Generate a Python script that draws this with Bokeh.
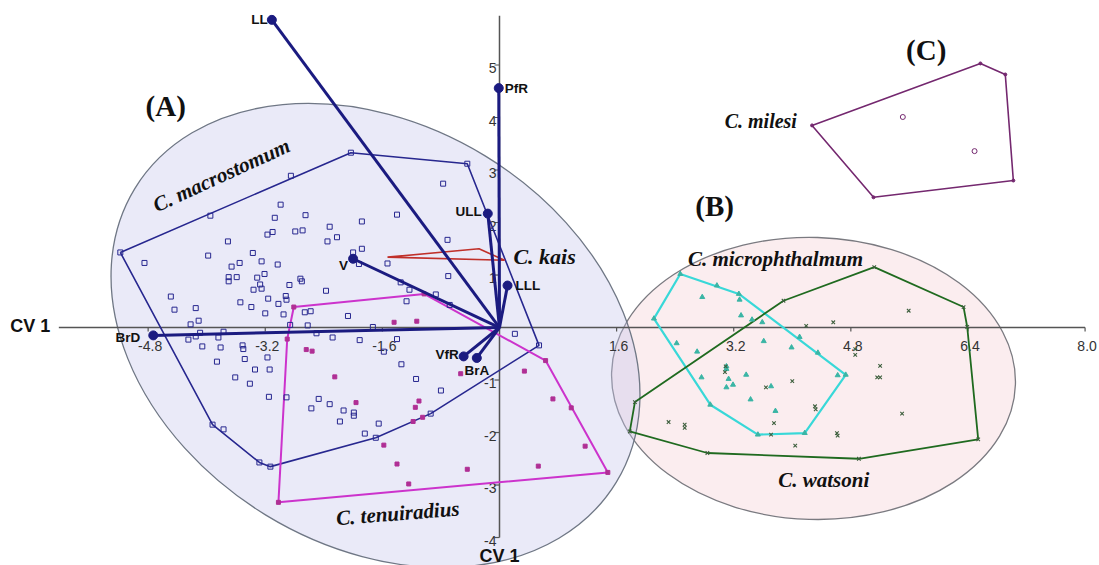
from bokeh.plotting import figure
from bokeh.models import Range1d
from bokeh.core.properties import value
from bokeh.embed import file_html
from bokeh.resources import INLINE

# ---------------- data (CV1 / CV2 units) ----------------
x_ticks = [-4.8, -3.2, -1.6, 1.6, 3.2, 4.8, 6.4, 8.0]
x_tick_labels = ["-4.8", "-3.2", "-1.6", "1.6", "3.2", "4.8", "6.4", "8.0"]
y_ticks = [5, 4, 3, 2, 1, -1, -2, -3, -4]
y_tick_labels = ["5", "4", "3", "2", "1", "-1", "-2", "-3", "-4"]

vec_names = ["LL", "PfR", "ULL", "LLL", "V", "BrD", "VfR", "BrA"]
vec_x = [-3.11, -0.01, -0.16, 0.11, -2.00, -4.73, -0.49, -0.31]
vec_y = [5.86, 4.56, 2.17, 0.80, 1.31, -0.15, -0.55, -0.58]

macro_hull_x = [-5.18, -2.03, -0.44, 0.54, -0.94, -1.69, -3.13, -3.28, -3.92]
macro_hull_y = [1.43, 3.33, 3.12, -0.34, -1.64, -2.10, -2.65, -2.57, -1.85]
macro_x = [-2.99, -3.07, -2.65, -1.88, -1.40, -3.17, -3.10, -2.79, -2.69, -2.32,
           -3.71, -2.35, -2.22, -1.88, -2.00, -1.92, -1.53, -4.85, -3.98, -3.37,
           -3.66, -3.55, -3.25, -3.03, -3.21, -3.70, -3.70, -3.59, -3.31, -3.27,
           -3.36, -3.25, -2.72, -2.70, -2.87, -2.37, -4.49, -4.44, -4.15, -3.54,
           -3.39, -3.16, -3.02, -2.92, -2.91, -3.20, -2.95, -2.66, -2.58, -2.07,
           -4.22, -4.11, -2.62, -1.73, -1.27, -1.23, -0.87, -0.68, -2.86, -2.50,
           -2.28, -1.91, -1.40, -1.58, -3.17, -3.34, -3.14, -1.34, -1.14, -0.80,
           -3.15, -2.91, -2.47, -2.57, -2.32, -2.13, -1.99, -1.99, -2.18, -1.65,
           -1.84, 0.21, -4.25, -4.09, -4.15, -3.77, -3.84, -4.06, -3.81, -3.51,
           -3.50, -3.86, -3.48, -3.61, -3.41, -0.77, -0.71, -0.70, -1.35, -3.95,
           -2.85, -3.77]
macro_y = [2.34, 2.09, 2.14, 2.02, 2.15, 1.77, 1.82, 1.83, 1.85, 1.92,
           1.64, 1.64, 1.72, 1.50, 1.43, 1.21, 1.22, 1.23, 1.37, 1.42,
           1.16, 1.23, 1.26, 1.20, 1.02, 0.96, 0.88, 0.96, 0.95, 0.82,
           0.72, 0.74, 0.93, 0.88, 0.81, 0.70, 0.59, 0.34, 0.37, 0.48,
           0.39, 0.55, 0.45, 0.60, 0.53, 0.27, 0.25, 0.29, 0.31, 0.22,
           0.06, 0.13, 0.04, 0.01, 0.50, 0.72, 0.63, 0.43, 0.05, -0.11,
           -0.19, -0.24, -0.22, -0.46, -0.57, -0.80, -0.80, -0.70, -0.98, -1.20,
           -1.32, -1.33, -1.36, -1.54, -1.46, -1.58, -1.62, -1.68, -1.79, -1.83,
           -2.02, -0.12, -0.23, -0.10, -0.17, -0.08, -0.19, -0.36, -0.38, -0.34,
           -0.41, -0.65, -0.60, -0.95, -1.07, 2.74, 1.67, 0.98, 0.86, 2.13,
           2.89, -1.94]

tenui_hull_x = [-2.81, -1.03, 0.63, 1.48, -3.02, -2.90]
tenui_hull_y = [0.39, 0.64, -0.63, -2.76, -3.33, -0.22]
tenui_x = [-1.44, -1.13, -2.64, -2.56, -2.25, -0.53, -1.96, -1.10, -1.15, -1.18,
           -1.05, -1.58, -1.40, -1.24, -0.44, 0.53, 0.34, 0.73, 0.98, 1.17]
tenui_y = [0.10, 0.12, -0.42, -0.45, -0.94, -0.88, -1.43, -1.40, -1.52, -1.79,
           -1.71, -2.24, -2.60, -2.98, -2.70, -2.64, -0.83, -1.36, -1.53, -2.26]

kais_hull_x = [-1.53, -0.28, 0.07]
kais_hull_y = [1.34, 1.50, 1.28]

micro_hull_x = [2.47, 3.27, 4.73, 4.17, 3.53, 2.88, 2.11]
micro_hull_y = [1.02, 0.64, -0.90, -2.01, -2.04, -1.47, 0.17]
micro_x = [2.97, 2.77, 3.28, 3.30, 3.45, 3.59, 3.61, 3.99, 4.10, 4.35, 4.62,
           2.42, 2.70, 2.76, 3.10, 3.10, 3.13, 3.19, 3.10, 3.37, 3.43, 3.71, 3.77]
micro_y = [0.80, 0.58, 0.53, 0.23, 0.15, 0.10, -0.26, -0.38, -0.18, -0.48, -0.91,
           -0.30, -0.46, -0.95, -0.74, -0.79, -0.98, -1.09, -1.14, -0.90, -1.37, -1.12, -1.59]

wat_hull_x = [3.88, 5.12, 6.34, 6.39, 6.54, 4.91, 2.84, 1.78, 1.85]
wat_hull_y = [0.51, 1.15, 0.39, 0.01, -2.13, -2.50, -2.39, -1.98, -1.42]
wat_x = [5.59, 4.56, 4.19, 4.86, 4.86, 5.20, 5.16, 5.20, 4.00, 3.64, 3.08, 3.09,
         4.31, 4.32, 5.50, 3.75, 3.71, 4.61, 4.62, 4.04, 2.31, 2.53, 2.53]
wat_y = [0.32, 0.10, 0.03, -0.41, -0.52, -0.73, -0.95, -0.95, -1.02, -1.14, -0.85, -0.74,
         -1.50, -1.56, -1.64, -1.82, -2.04, -2.01, -2.06, -2.25, -1.80, -1.85, -1.91]

miles_hull_x = [4.27, 6.57, 6.91, 7.02, 5.11]
miles_hull_y = [3.85, 5.03, 4.82, 2.80, 2.48]
miles_x = [5.51, 6.49]
miles_y = [4.01, 3.36]

# ---------------- layout / style ----------------
W, H = 1099, 565
X0, X1 = -6.817, 8.197
Y0, Y1 = -4.533, 6.229
px_x = (X1 - X0) / W
px_y = (Y1 - Y0) / H

NAVY = "#1b1b80"
HULL_NAVY = "#27278f"
MAG = "#cc33cc"
MAG_PT = "#b02f95"
RED = "#c0302a"
CYAN = "#38d8d8"
CYAN_PT = "#3ab5a5"
GREEN = "#1f6a1f"
GREEN_PT = "#3d5f3d"
PURPLE = "#74286f"
AXIS = "#555555"
SERIF = value("Liberation Serif")
SANS = value("Liberation Sans")

p = figure(width=W, height=H, x_range=Range1d(X0, X1), y_range=Range1d(Y0, Y1),
           output_backend="svg", toolbar_location=None,
           x_axis_type=None, y_axis_type=None, min_border=0)
p.grid.visible = False
p.outline_line_color = None
p.background_fill_color = "white"
p.border_fill_color = "white"

# group ellipses
p.ellipse(x=[4.29], y=[-0.97], width=[404], height=[282], angle=-0.03,
          width_units="screen", height_units="screen",
          fill_color="#f3c6cc", fill_alpha=0.32, line_color="#7a7a80", line_width=1.3)
p.ellipse(x=[-1.694], y=[-0.152], width=[564], height=[421], angle=-0.548,
          width_units="screen", height_units="screen",
          fill_color="#c5c5ec", fill_alpha=0.36, line_color="#6f7785", line_width=1.3)

# axes (drawn at the origin)
p.segment(x0=[-6.02], y0=[0], x1=[max(x_ticks)], y1=[0], line_color=AXIS, line_width=1.5)
p.segment(x0=[0], y0=[min(y_ticks)], x1=[0], y1=[5.94], line_color=AXIS, line_width=1.5)
p.segment(x0=x_ticks, y0=[0] * len(x_ticks), x1=x_ticks, y1=[-4 * px_y] * len(x_ticks),
          line_color=AXIS, line_width=1.2)
p.segment(x0=[0] * len(y_ticks), y0=y_ticks, x1=[-5 * px_x] * len(y_ticks), y1=y_ticks,
          line_color=AXIS, line_width=1.2)
p.text(x=x_ticks, y=[0] * len(x_ticks), text=x_tick_labels, text_font=SANS,
       text_font_size="14px", text_color="#333333", text_align="center",
       text_baseline="middle", y_offset=18, x_offset=2)
p.text(x=[0] * len(y_ticks), y=y_ticks, text=y_tick_labels, text_font=SANS,
       text_font_size="14px", text_color="#333333", text_align="right",
       text_baseline="middle", x_offset=-3, y_offset=3)
p.text(x=[-6.41], y=[0.02], text=["CV 1"], text_font=SANS, text_font_size="18px",
       text_font_style="bold", text_color="#111111", text_align="center", text_baseline="middle")
p.text(x=[0.0], y=[-4.36], text=["CV 1"], text_font=SANS, text_font_size="18px",
       text_font_style="bold", text_color="#111111", text_align="center", text_baseline="middle")

# hulls
def hull(xs, ys, color, width):
    p.line(x=xs + xs[:1], y=ys + ys[:1], line_color=color, line_width=width)

hull(macro_hull_x, macro_hull_y, HULL_NAVY, 1.6)
hull(tenui_hull_x, tenui_hull_y, MAG, 2.0)
hull(kais_hull_x, kais_hull_y, RED, 1.6)
hull(micro_hull_x, micro_hull_y, CYAN, 2.2)
hull(wat_hull_x, wat_hull_y, GREEN, 1.8)
hull(miles_hull_x, miles_hull_y, PURPLE, 1.6)

# points
p.scatter(x=macro_x + macro_hull_x, y=macro_y + macro_hull_y, marker="square", size=5,
          fill_color=None, line_color=HULL_NAVY, line_width=1)
p.scatter(x=tenui_x + tenui_hull_x, y=tenui_y + tenui_hull_y, marker="square", size=4,
          fill_color=MAG_PT, line_color=MAG_PT)
p.scatter(x=micro_x + micro_hull_x, y=micro_y + micro_hull_y, marker="triangle", size=5,
          fill_color=CYAN_PT, line_color=CYAN_PT)
p.scatter(x=wat_x + wat_hull_x, y=wat_y + wat_hull_y, marker="x", size=5,
          line_color=GREEN_PT, line_width=1.1)
p.scatter(x=miles_hull_x, y=miles_hull_y, marker="circle", size=3,
          fill_color=PURPLE, line_color=PURPLE)
p.scatter(x=miles_x, y=miles_y, marker="circle", size=5, fill_color=None,
          line_color=PURPLE, line_width=1)

# loading vectors
n = len(vec_names)
p.segment(x0=[0] * n, y0=[0] * n, x1=vec_x, y1=vec_y, line_color=NAVY, line_width=3)
p.scatter(x=vec_x, y=vec_y, marker="circle", size=9, fill_color=NAVY, line_color=NAVY)
lab_align = ["right", "left", "right", "left", "right", "right", "right", "center"]
lab_dx = [-4, 6, -6, 8, -5, -13, -5, 0]
lab_dy = [0, 0, -2, 0, 7, 2, -2, 13]
for i in range(n):
    p.text(x=[vec_x[i]], y=[vec_y[i]], text=[vec_names[i]], text_font=SANS,
           text_font_size="13.5px", text_font_style="bold", text_color="#111111",
           text_align=lab_align[i], text_baseline="middle",
           x_offset=lab_dx[i], y_offset=lab_dy[i])

# group and species labels
labels = [
    ("(A)", -4.56, 4.21, 0.0, "29px", "bold"),
    ("(B)", 2.94, 2.32, 0.0, "29px", "bold"),
    ("(C)", 5.83, 5.28, 0.0, "29px", "bold"),
    ("C. macrostomum", -3.80, 2.90, 0.43, "21px", "bold italic"),
    ("C. tenuiradius", -1.39, -3.54, 0.08, "21px", "bold italic"),
    ("C. microphthalmum", 3.77, 1.31, 0.0, "21px", "bold italic"),
    ("C. watsoni", 4.43, -2.90, 0.0, "21px", "bold italic"),
    ("C. milesi", 3.57, 3.94, 0.0, "20px", "bold italic"),
]
for t, lx, ly, ang, fs, st in labels:
    p.text(x=[lx], y=[ly], text=[t], angle=ang, text_font=SERIF, text_font_size=fs,
           text_font_style=st, text_color="#111111", text_align="center",
           text_baseline="middle")
p.text(x=[0.19], y=[1.35], text=["C. kais"], text_font=SERIF, text_font_size="22px",
       text_font_style="bold italic", text_color="#111111", text_align="left",
       text_baseline="middle")

open("out.html", "w").write(file_html(p, INLINE))
